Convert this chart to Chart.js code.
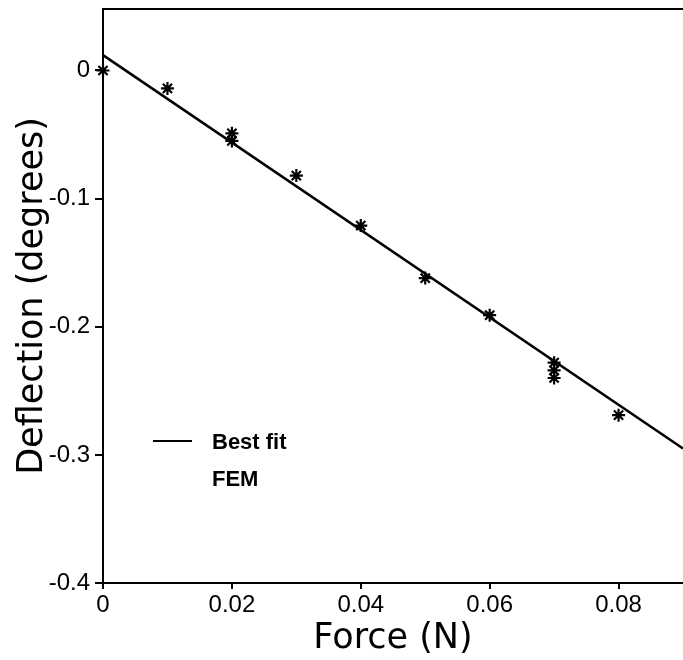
<!DOCTYPE html>
<html>
<head>
<meta charset="utf-8">
<title>Deflection vs Force</title>
<script src="https://cdn.jsdelivr.net/npm/chart.js@4.4.0/dist/chart.umd.min.js"></script>
<style>
  html, body { margin: 0; padding: 0; background: #fff; overflow: hidden; }
  #wrap { width: 683px; height: 660px; }
</style>
</head>
<body>
<div id="wrap"><canvas id="chart" width="683" height="660"></canvas></div>
<script>
// FEM results: force (N) against deflection (degrees)
const femForce = [0, 0.01, 0.02, 0.02, 0.03, 0.04, 0.05, 0.06, 0.07, 0.07, 0.07, 0.08];
const femDeflection = [0, -0.014, -0.049, -0.055, -0.082, -0.121, -0.162, -0.191, -0.228, -0.234, -0.240, -0.269];

// best fit line, end points
const fitForce = [0, 0.09];
const fitDeflection = [0.012, -0.295];

const xTicks = [0, 0.02, 0.04, 0.06, 0.08];
const yTicks = [0, -0.1, -0.2, -0.3, -0.4];

const toPoints = (xs, ys) => xs.map((x, i) => ({ x: x, y: ys[i] }));

// top frame line plus the small legend inside the plot
const framePlugin = {
  id: 'frame',
  afterDraw(chart) {
    const { ctx, chartArea } = chart;
    ctx.save();
    ctx.strokeStyle = '#000';
    ctx.lineWidth = 2;
    ctx.beginPath();
    ctx.moveTo(chartArea.left, chartArea.top);
    ctx.lineTo(chartArea.right, chartArea.top);
    ctx.stroke();

    const lx = chartArea.left + 50;
    const ly = chartArea.top + 432;
    ctx.lineWidth = 2;
    ctx.beginPath();
    ctx.moveTo(lx, ly);
    ctx.lineTo(lx + 39, ly);
    ctx.stroke();

    ctx.fillStyle = '#000';
    ctx.font = 'bold 22px "Liberation Sans", Arial, sans-serif';
    ctx.textBaseline = 'middle';
    ctx.fillText(chart.data.datasets[0].label, lx + 59, ly + 2);
    ctx.fillText(chart.data.datasets[1].label, lx + 59, ly + 39);
    ctx.restore();
  }
};

const tickFont = { family: '"Liberation Sans", Arial, sans-serif', size: 24 };
const titleFont = { family: '"DejaVu Sans", sans-serif', size: 35, lineHeight: 1.2 };

const fmt = (v, digits) => (v === 0 ? '0' : v.toFixed(digits));

new Chart(document.getElementById('chart'), {
  type: 'scatter',
  data: {
    datasets: [
      {
        label: 'Best fit',
        data: toPoints(fitForce, fitDeflection),
        showLine: true,
        borderColor: '#000',
        borderWidth: 2.5,
        pointRadius: 0,
        fill: false
      },
      {
        label: 'FEM',
        data: toPoints(femForce, femDeflection),
        pointStyle: 'star',
        pointRadius: 6.5,
        borderColor: '#000',
        borderWidth: 2.2,
        backgroundColor: '#000',
        clip: false
      }
    ]
  },
  options: {
    responsive: false,
    animation: false,
    layout: { autoPadding: false, padding: { top: 9, right: 0, left: 0, bottom: 0 } },
    plugins: {
      legend: { display: false },
      tooltip: { enabled: false }
    },
    scales: {
      x: {
        type: 'linear',
        min: 0,
        max: 0.09,
        afterBuildTicks: (scale) => { scale.ticks = xTicks.map(v => ({ value: v })); },
        afterFit: (scale) => { scale.height = 77; scale.paddingLeft = 0; scale.paddingRight = 0; },
        ticks: {
          color: '#000',
          font: tickFont,
          padding: 2,
          maxRotation: 0,
          callback: (v) => fmt(v, 2)
        },
        grid: { drawOnChartArea: false, drawTicks: true, tickLength: 6, color: '#000', lineWidth: 2 },
        border: { display: true, color: '#000', width: 2 },
        title: { display: true, text: 'Force (N)', color: '#000', font: titleFont, padding: { top: 0, bottom: 0 } }
      },
      y: {
        type: 'linear',
        min: -0.4,
        max: 0.048,
        afterBuildTicks: (scale) => { scale.ticks = yTicks.map(v => ({ value: v })); },
        afterFit: (scale) => { scale.width = 103; scale.paddingTop = 0; scale.paddingBottom = 0; },
        ticks: {
          color: '#000',
          font: tickFont,
          padding: 5,
          callback: (v) => fmt(v, 1)
        },
        grid: { drawOnChartArea: false, drawTicks: true, tickLength: 8, color: '#000', lineWidth: 2 },
        border: { display: true, color: '#000', width: 2 },
        title: { display: true, text: 'Deflection (degrees)', color: '#000', font: titleFont, padding: { top: 12, bottom: 0 } }
      }
    }
  },
  plugins: [framePlugin]
});
</script>
</body>
</html>
